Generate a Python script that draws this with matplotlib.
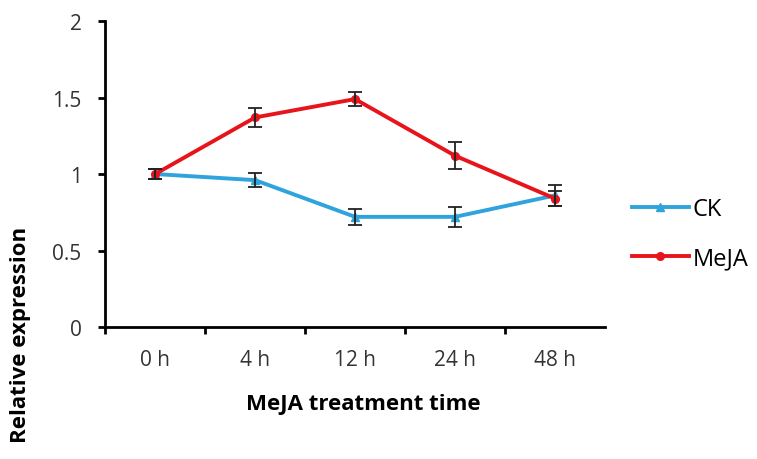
import numpy as np
import matplotlib.pyplot as plt

plt.rcParams['font.family'] = ['Open Sans', 'DejaVu Sans']

# 数据
times = ['0 h', '4 h', '12 h', '24 h', '48 h']
ck = [1.00, 0.96, 0.72, 0.72, 0.86]
ck_err = [0.03, 0.045, 0.05, 0.065, 0.07]
meja = [1.00, 1.37, 1.49, 1.12, 0.84]
meja_err = [0.03, 0.06, 0.045, 0.09, 0.05]

fig = plt.figure(figsize=(7.57, 4.6), dpi=100)
ax = fig.add_axes([0.139, 0.287, 0.66, 0.665])

x = np.arange(len(times))
ln_ck, = ax.plot(x, ck, color='#2ea3dc', lw=2.8, marker='^', markersize=6, label='CK')
ln_me, = ax.plot(x, meja, color='#e8141b', lw=2.8, marker='o', markersize=5.5, label='MeJA')
# 误差棒
ax.errorbar(x, ck, yerr=ck_err, fmt='none', ecolor='#222222', elinewidth=1.3,
            capsize=5, capthick=1.3)
ax.errorbar(x, meja, yerr=meja_err, fmt='none', ecolor='#222222', elinewidth=1.3,
            capsize=5, capthick=1.3)

ax.set_xlim(-0.5, 4.5)
ax.set_ylim(0, 2)
ax.set_yticks([0, 0.5, 1, 1.5, 2])
ax.set_yticklabels(['0', '0.5', '1', '1.5', '2'])

# 类别刻度位于格子之间，标签居中
ax.set_xticks(np.arange(-0.5, 4.0, 1.0))
ax.set_xticklabels([])
ax.set_xticks(x, minor=True)
ax.set_xticklabels(times, minor=True)
ax.tick_params(axis='x', which='minor', length=0, pad=16, labelsize=15, labelcolor='#333333')
ax.tick_params(axis='x', which='major', length=5, width=2, direction='out')
ax.tick_params(axis='y', length=5, width=2, direction='out', labelsize=15,
               labelcolor='#333333', pad=12)

for s in ['top', 'right']:
    ax.spines[s].set_visible(False)
for s in ['left', 'bottom']:
    ax.spines[s].set_linewidth(2)

fig.text(0.48, 0.12, 'MeJA treatment time', fontsize=16, fontweight='bold',
         ha='center', va='center')
fig.text(0.027, 0.272, 'Relative expression', fontsize=16, fontweight='bold',
         rotation=90, ha='center', va='center')

fig.legend(handles=[ln_ck, ln_me], loc='center left', bbox_to_anchor=(0.835, 0.49),
           frameon=False, fontsize=17, handlelength=2.4, labelspacing=1.05,
           handletextpad=0.15, borderpad=0, borderaxespad=0)

fig.savefig('out.png', dpi=100)
